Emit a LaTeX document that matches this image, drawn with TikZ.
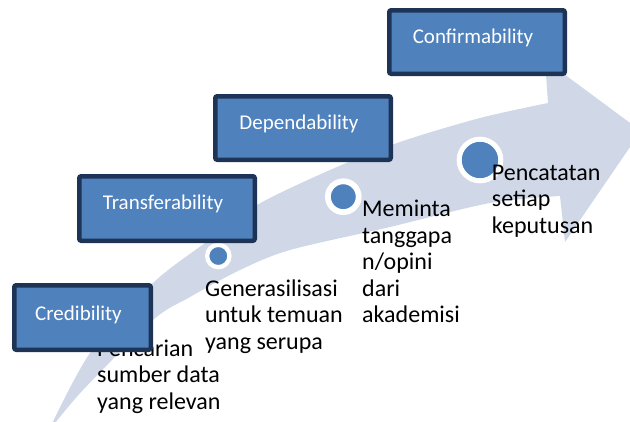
\documentclass[tikz,border=0pt]{standalone}
\usepackage{fontspec}
\setmainfont{Carlito}
\definecolor{arrowfill}{RGB}{208,216,232}
\definecolor{boxfill}{RGB}{79,129,189}
\definecolor{boxdraw}{RGB}{30,52,86}
\tikzset{
  stepbox/.style={rectangle, rounded corners=2pt, fill=boxfill, draw=boxdraw, line width=4.5pt, inner sep=0pt},
  boxlabel/.style={anchor=base, inner sep=0pt, text=white, font=\fontsize{21}{24}\selectfont},
  dotmark/.style={circle, fill=boxfill, draw=white, inner sep=0pt},
  body/.style={anchor=base west, align=left, inner sep=0pt, text=black, font=\fontsize{24}{26.5}\selectfont}
}
\begin{document}
\begin{tikzpicture}[x=1pt,y=-1pt]
\useasboundingbox (0,0) rectangle (630,421);
\clip (0,0) rectangle (630,421);
% big curved arrow
\fill[arrowfill] plot[smooth] coordinates {(48,432) (83,390) (153,320) (190,297) (240,270) (290,250) (390,227) (490,203) (560,196)}
  -- (565,242) -- (641,131) -- (545,60) -- (548,103)
  -- plot[smooth] coordinates {(548,103) (480,118) (400,142) (330,170) (257,205) (205,243) (153,283) (90,353) (48,432)} -- cycle;
% dots
\node[dotmark, line width=4.3pt, minimum size=22.3pt] (d1) at (218.3,256) {};
\node[dotmark, line width=5.8pt, minimum size=30.8pt] (d2) at (343.3,196.7) {};
\node[dotmark, line width=5pt, minimum size=41.6pt] (d3) at (480,160) {};
% texts (anchored at the baseline of the last line)
\node[body] (t1) at (97,409) {Pencarian\\sumber data\\yang relevan};
\node[body] (t2) at (205,349) {Generasilisasi\\untuk temuan\\yang serupa};
\node[body] (t3) at (362,322.7) {Meminta\\tanggapa\\n/opini\\dari\\akademisi};
\node[body] (t4) at (491.7,233.3) {Pencatatan\\setiap\\keputusan};
% boxes
\node[stepbox, minimum width=136.5pt, minimum height=64.5pt] (b1) at (82.5,317.5) {};
\node[boxlabel] (l1) at (78.5,320) {Credibility};
\node[stepbox, minimum width=175.5pt, minimum height=64.5pt] (b2) at (167,208.5) {};
\node[boxlabel] (l2) at (163,209.5) {Transferability};
\node[stepbox, minimum width=175.5pt, minimum height=63.5pt] (b3) at (303,128) {};
\node[boxlabel] (l3) at (299,129.5) {Dependability};
\node[stepbox, minimum width=175.5pt, minimum height=63.5pt] (b4) at (477,42) {};
\node[boxlabel] (l4) at (473,43) {Confirmability};
\end{tikzpicture}
\end{document}
